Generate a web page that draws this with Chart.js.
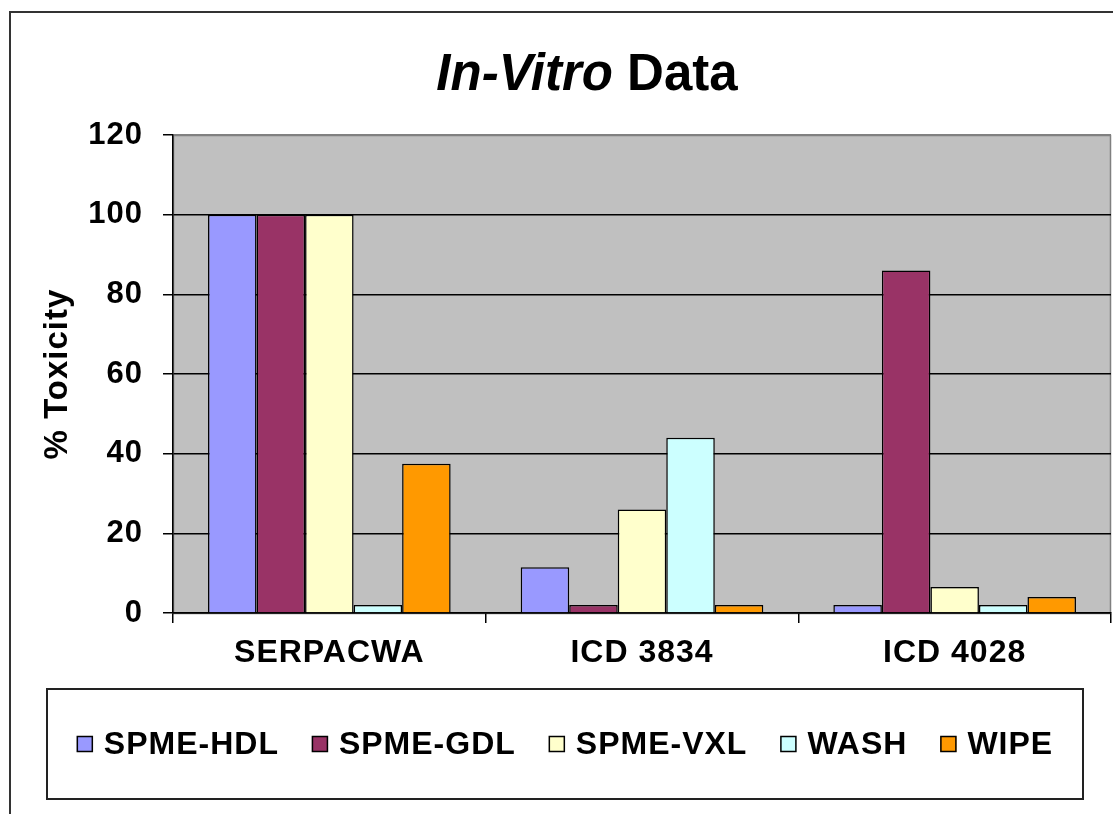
<!DOCTYPE html>
<html>
<head>
<meta charset="utf-8">
<script src="https://cdn.jsdelivr.net/npm/chart.js@4.4.1/dist/chart.umd.min.js"></script>
<style>
  body { margin: 0; background: #fff; overflow: hidden; }
  canvas { display: block; }
</style>
</head>
<body>
<canvas id="toxChart" width="1113" height="814" style="width:1113px;height:814px"></canvas>
<script>
// In-Vitro toxicity chart

const categories = ['SERPACWA', 'ICD 3834', 'ICD 4028'];
const seriesNames = ['SPME-HDL', 'SPME-GDL', 'SPME-VXL', 'WASH', 'WIPE'];
const seriesColors = ['#9999FF', '#993366', '#FFFFCC', '#CCFFFF', '#FF9900'];

const hdlValues = [100, 11.5, 2];
const gdlValues = [100, 2, 86];
const vxlValues = [100, 26, 6.5];
const washValues = [2, 44, 2];
const wipeValues = [37.5, 2, 4];

const yMin = 0;
const yMax = 120;
const yStep = 20;

const FONT = '"Liberation Sans", Arial, sans-serif';

const allValues = [hdlValues, gdlValues, vxlValues, washValues, wipeValues];

// letter spacing like the original bitmap text
const spacingPlugin = {
    id: 'spacing',
    beforeLayout(chart) { chart.ctx.letterSpacing = '1px'; },
    beforeDraw(chart) { chart.ctx.letterSpacing = '1px'; }
};

// chart frame + gray plot area
const framePlugin = {
    id: 'frame',
    beforeDraw(chart) {
        const { ctx, chartArea: a } = chart;
        ctx.save();
        ctx.fillStyle = '#fff';
        ctx.fillRect(0, 0, chart.width, chart.height);
        ctx.strokeStyle = '#333';
        ctx.lineWidth = 2;
        ctx.strokeRect(10, 12, 1300, 1000);
        ctx.fillStyle = '#C0C0C0';
        ctx.fillRect(a.left, a.top, a.right - a.left, a.bottom - a.top);
        ctx.strokeStyle = '#808080';
        ctx.lineWidth = 1.5;
        ctx.strokeRect(a.left + 0.5, a.top + 0.5, a.right - a.left - 1, a.bottom - a.top);
        ctx.restore();
    }
};

// title with italic "In-Vitro"
const titlePlugin = {
    id: 'mixedTitle',
    afterDraw(chart) {
        const ctx = chart.ctx;
        ctx.save();
        ctx.letterSpacing = '0px';
        ctx.fillStyle = '#000';
        ctx.textBaseline = 'alphabetic';
        const italic = 'italic bold 51px ' + FONT;
        const normal = 'bold 51px ' + FONT;
        ctx.font = italic;
        const w1 = ctx.measureText('In-Vitro').width;
        ctx.font = normal;
        const w2 = ctx.measureText(' Data').width;
        let x = 587 - (w1 + w2) / 2;
        ctx.textAlign = 'left';
        ctx.font = italic;
        ctx.fillText('In-Vitro', x, 90);
        ctx.font = normal;
        ctx.fillText(' Data', x + w1, 90);
        ctx.restore();
    }
};

// boxed legend below the axis
const boxLegendPlugin = {
    id: 'boxLegend',
    afterDraw(chart) {
        const ctx = chart.ctx;
        const box = { left: 47, top: 689, right: 1083, bottom: 799 };
        ctx.save();
        ctx.strokeStyle = '#222';
        ctx.lineWidth = 2;
        ctx.strokeRect(box.left, box.top, box.right - box.left, box.bottom - box.top);
        ctx.font = 'bold 32px ' + FONT;
        ctx.letterSpacing = '1px';
        ctx.textBaseline = 'middle';
        ctx.textAlign = 'left';
        const sw = 16, gap = 11, itemGap = 33;
        const items = chart.data.datasets.map(ds => ({
            text: ds.label, color: ds.backgroundColor, w: ctx.measureText(ds.label).width
        }));
        const total = items.reduce((s, it) => s + sw + gap + it.w, 0) + itemGap * (items.length - 1);
        let x = (box.left + box.right) / 2 - total / 2;
        const cy = (box.top + box.bottom) / 2;
        items.forEach(it => {
            ctx.fillStyle = it.color;
            ctx.fillRect(x, cy - sw / 2, sw, sw);
            ctx.strokeStyle = '#000';
            ctx.lineWidth = 1.5;
            ctx.strokeRect(x + 0.5, cy - sw / 2 + 0.5, sw - 1, sw - 1);
            ctx.fillStyle = '#000';
            ctx.fillText(it.text, x + sw + gap, cy + 1);
            x += sw + gap + it.w + itemGap;
        });
        ctx.restore();
    }
};

new Chart(document.getElementById('toxChart'), {
    type: 'bar',
    data: {
        labels: categories,
        datasets: seriesNames.map((name, i) => ({
            label: name,
            data: allValues[i],
            backgroundColor: seriesColors[i],
            borderColor: '#000',
            borderWidth: 1.5,
            borderSkipped: 'bottom',
            barPercentage: 1,
            categoryPercentage: 0.776
        }))
    },
    options: {
        responsive: false,
        animation: false,
        devicePixelRatio: 1,
        layout: {
            padding: { left: 10, top: 135, right: 2, bottom: 0 }
        },
        plugins: {
            legend: { display: false },
            title: { display: false },
            tooltip: { enabled: false }
        },
        scales: {
            x: {
                grid: {
                    drawOnChartArea: false,
                    offset: true,
                    color: '#000',
                    lineWidth: 1.5,
                    tickLength: 10
                },
                border: { color: '#000', width: 1.5 },
                ticks: {
                    color: '#000',
                    padding: 11,
                    maxRotation: 0,
                    font: { family: FONT, size: 32, weight: 'bold' }
                },
                afterFit(scale) { scale.height = 201; }
            },
            y: {
                min: yMin,
                max: yMax,
                grid: {
                    color: ctx => (ctx.tick && ctx.tick.value === yMax) ? '#808080' : '#000',
                    tickColor: '#000',
                    tickLength: 10,
                    lineWidth: 1.5
                },
                border: { color: '#000', width: 1.5 },
                ticks: {
                    stepSize: yStep,
                    color: '#000',
                    padding: 20,
                    font: { family: FONT, size: 31, weight: 'bold' }
                },
                title: {
                    display: true,
                    text: '% Toxicity',
                    color: '#000',
                    padding: { top: 28, bottom: 0 },
                    font: { family: FONT, size: 33, weight: 'bold' }
                },
                afterFit(scale) { scale.width = 163; }
            }
        }
    },
    plugins: [spacingPlugin, framePlugin, titlePlugin, boxLegendPlugin]
});
</script>
</body>
</html>
